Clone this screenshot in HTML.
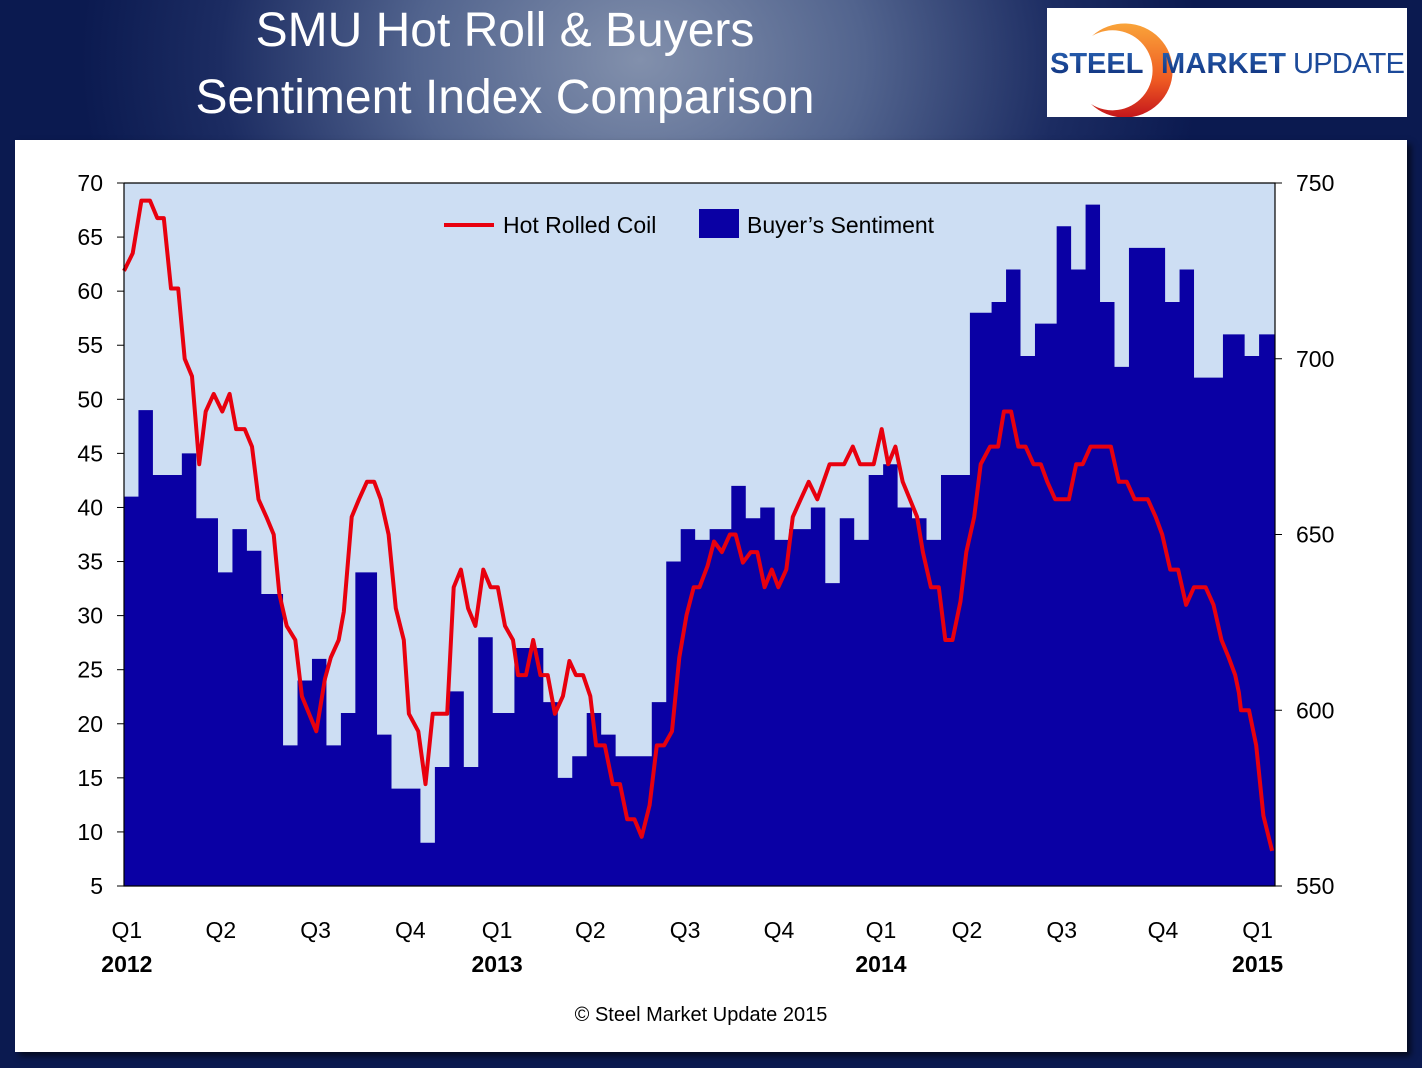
<!DOCTYPE html>
<html><head><meta charset="utf-8"><style>
html,body{margin:0;padding:0;width:1422px;height:1068px;overflow:hidden}
body{background:radial-gradient(ellipse 560px 440px at 640px 60px,#8290ac 0%,#52648e 40%,#1c2c62 75%,#0b1a50 100%);background-color:#0b1a50;font-family:"Liberation Sans",sans-serif;position:relative}
#title{position:absolute;left:100px;top:-3px;width:810px;text-align:center;color:#fff;font-size:48px;line-height:67px}
#panel{position:absolute;left:15px;top:140px;width:1392px;height:912px;background:#fff;box-shadow:4px 4px 6px rgba(0,0,0,.6)}
#logo{position:absolute;left:1047px;top:8px;width:360px;height:109px;background:#fff}
</style></head><body>
<div id="title">SMU Hot Roll &amp; Buyers<br>Sentiment Index Comparison</div>
<div id="logo">
<svg width="360" height="109">
<defs><linearGradient id="arc" x1="0" y1="0" x2="0" y2="1"><stop offset="0" stop-color="#f9a43a"/><stop offset="0.6" stop-color="#ef5a22"/><stop offset="1" stop-color="#c4161c"/></linearGradient>
<linearGradient id="txt" x1="0" y1="0" x2="0" y2="1"><stop offset="0" stop-color="#2a63b4"/><stop offset="1" stop-color="#0d2d78"/></linearGradient></defs>
<path d="M45,28 A48,47 0 1 1 44,96 A40,40 0 1 0 45,28 Z" fill="url(#arc)"/>
<text x="3" y="65" font-size="29" font-weight="bold" fill="url(#txt)" font-family="Liberation Sans,sans-serif">STEEL</text>
<text x="114" y="65" font-size="29" font-weight="bold" fill="url(#txt)" font-family="Liberation Sans,sans-serif" textLength="125">MARKET</text>
<text x="246" y="65" font-size="29" fill="#1c4a9a" font-family="Liberation Sans,sans-serif" textLength="112">UPDATE</text>
</svg></div>
<div id="panel"></div>
<svg id="chart" width="1422" height="1068" style="position:absolute;left:0;top:0"></svg>
<script>
const barWeeks=[0,2,4,8,10,13,15,17,19,22,24,26,28,30,32,35,37,41,43,45,47,49,51,54,58,60,62,64,66,68,73,75,77,79,81,84,86,88,90,92,95,97,99,101,103,105,107,109,111,113,117,120,122,124,126,129,131,133,135,137,139,144,146,148,152,155,157];
const barValues=[41,49,43,45,39,34,38,36,32,18,24,26,18,21,34,19,14,9,16,23,16,28,21,27,22,15,17,21,19,17,22,35,38,37,38,42,39,40,37,38,40,33,39,37,43,44,40,39,37,43,58,59,62,54,57,66,62,68,59,53,64,59,62,52,56,54,56];
const hrcWeeks=[0,1.2,2.4,3.6,4.6,5.5,6.5,7.5,8.4,9.4,10.4,11.3,12.4,13.6,14.6,15.5,16.7,17.7,18.6,19.7,20.7,21.5,22.5,23.7,24.6,25.6,26.6,27.8,28.6,29.7,30.4,31.5,32.5,33.6,34.6,35.5,36.6,37.6,38.7,39.4,40.7,41.7,42.7,44.7,45.6,46.6,47.6,48.6,49.7,50.7,51.7,52.7,53.8,54.5,55.6,56.6,57.6,58.6,59.6,60.7,61.6,62.5,63.5,64.5,65.3,66.5,67.6,68.6,69.6,70.6,71.6,72.7,73.7,74.7,75.8,76.8,77.8,78.8,79.6,80.7,81.6,82.7,83.8,84.6,85.6,86.7,87.6,88.6,89.6,90.5,91.6,92.5,93.6,94.7,95.9,97.6,99.6,100.8,101.8,103.7,104.8,105.7,106.7,107.7,108.7,109.7,110.5,111.6,112.7,113.6,114.6,115.7,116.5,117.6,118.5,119.8,120.9,121.7,122.7,123.7,124.7,125.8,126.8,127.7,128.8,130.7,131.7,132.6,133.7,136.5,137.6,138.7,139.8,141.6,142.7,143.6,144.7,145.8,146.9,148,149.6,150.7,151.8,152.8,153.7,154.2,154.5,155.6,156.6,157.6,158.8];
const hrcPrices=[725,730,745,745,740,740,720,720,700,695,670,685,690,685,690,680,680,675,660,655,650,633,624,620,604,599,594,609,615,620,628,655,660,665,665,660,650,629,620,599,594,579,599,599,635,640,629,624,640,635,635,624,620,610,610,620,610,610,599,604,614,610,610,604,590,590,579,579,569,569,564,573,590,590,594,615,627,635,635,641,648,645,650,650,642,645,645,635,640,635,640,655,660,665,660,670,670,675,670,670,680,670,675,665,660,655,645,635,635,620,620,631,645,655,670,675,675,685,685,675,675,670,670,665,660,660,670,670,675,675,665,665,660,660,655,650,640,640,630,635,635,630,620,615,610,605,600,600,590,570,560];
const leftTicks=[5,10,15,20,25,30,35,40,45,50,55,60,65,70];
const rightTicks=[550,600,650,700,750];
const quarterLabels=["Q1","Q2","Q3","Q4","Q1","Q2","Q3","Q4","Q1","Q2","Q3","Q4","Q1"];
const quarterWeeks=[0.4,13.4,26.5,39.6,51.6,64.5,77.6,90.6,104.7,116.6,129.7,143.7,156.8];
const yearLabels=["2012","2013","2014","2015"];
const yearWeeks=[0.4,51.6,104.7,156.8];

const L=124,R=1275,T=183,B=886,WMAX=159.2;
const X=w=>L+(w/WMAX)*(R-L);
const YL=v=>B-(v-5)/(70-5)*(B-T);
const YR=v=>B-(v-550)/(750-550)*(B-T);
const NS="http://www.w3.org/2000/svg";
const svg=document.getElementById('chart');
function mk(tag,attrs,txt){const e=document.createElementNS(NS,tag);for(const k in attrs)e.setAttribute(k,attrs[k]);if(txt!==undefined)e.textContent=txt;svg.appendChild(e);return e;}

let e=mk('rect',{x:L,y:T,width:R-L,height:B-T,fill:'#cddef3'});



let d='M'+X(barWeeks[0])+','+B;
for(let i=0;i<barValues.length;i++){const x0=X(barWeeks[i]);const x1=i+1<barWeeks.length?X(barWeeks[i+1]):R;const y=YL(barValues[i]);d+=' L'+x0+','+y+' L'+x1+','+y;}
d+=' L'+R+','+B+' Z';
e=mk('path',{d:d,fill:'#0a00a4'});



const pts=hrcWeeks.map((w,i)=>X(w).toFixed(1)+','+YR(hrcPrices[i]).toFixed(1)).join(' ');
e=mk('polyline',{points:pts,fill:'none',stroke:'#e8000e','stroke-width':4,'stroke-linejoin':'round'});



e=mk('path',{d:`M${L},${T} L${L},${B} L${R},${B} L${R},${T} L${L},${T}`,fill:'none',stroke:'#000','stroke-width':1.2});


leftTicks.forEach(v=>{const y=YL(v);
 mk('line',{x1:L-7,x2:L,y1:y,y2:y,stroke:'#000','stroke-width':1});
 const t=mk('text',{x:103,y:y+8,'text-anchor':'end','font-size':23,fill:'#000'},v);
 
 });
rightTicks.forEach(v=>{const y=YR(v);
 mk('line',{x1:R,x2:R+7,y1:y,y2:y,stroke:'#000','stroke-width':1});
 const t=mk('text',{x:1296,y:y+8,'font-size':23,fill:'#000'},v);
 
 });
quarterLabels.forEach((q,i)=>{const t=mk('text',{x:X(quarterWeeks[i]),y:938,'text-anchor':'middle','font-size':23,fill:'#000'},q);
 
 });
yearLabels.forEach((q,i)=>{const t=mk('text',{x:X(yearWeeks[i]),y:972,'text-anchor':'middle','font-size':23,'font-weight':'bold',fill:'#000'},q);
 
 });

e=mk('line',{x1:444,x2:494,y1:225,y2:225,stroke:'#e8000e','stroke-width':4});


e=mk('text',{x:503,y:233,'font-size':23,fill:'#000'},'Hot Rolled Coil');


e=mk('rect',{x:699,y:209,width:40,height:29,fill:'#0a00a4'});


e=mk('text',{x:747,y:233,'font-size':23,fill:'#000'},'Buyer\u2019s Sentiment');



e=mk('text',{x:701,y:1021,'text-anchor':'middle','font-size':20,fill:'#000'},'\u00a9 Steel Market Update 2015');


</script>
</body></html>
